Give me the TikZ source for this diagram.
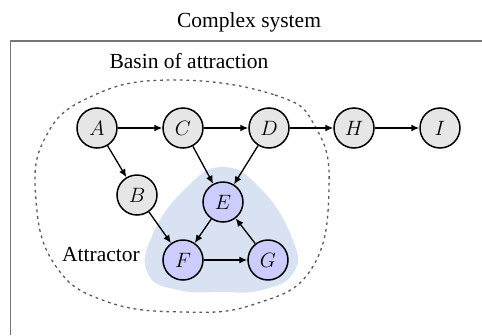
\documentclass[tikz,border=0pt]{standalone}
\usepackage{fontspec}
\setmainfont{Liberation Serif}
\usetikzlibrary{arrows.meta}
\definecolor{nodegray}{HTML}{E6E6E6}
\definecolor{nodeblue}{HTML}{CCCCFF}
\definecolor{blobblue}{HTML}{D9E2F2}
\definecolor{framegray}{HTML}{777777}
\definecolor{basingray}{HTML}{5A5A5A}
\tikzset{
  state/.style={circle, draw=black, line width=1.5pt, minimum size=40pt, inner sep=0pt,
    fill=nodegray, font=\fontsize{20.5}{22}\selectfont},
  attr/.style={state, fill=nodeblue},
  edge/.style={draw=black, line width=1.3pt, -{Latex[length=8pt,width=7pt]}},
  label/.style={font=\fontsize{21.5}{24}\selectfont, anchor=base},
  basin/.style={draw=basingray, line width=1.3pt, dash pattern=on 2.8pt off 3.8pt},
}
\begin{document}
\begin{tikzpicture}[x=1pt, y=-1pt]
\useasboundingbox (0,0) rectangle (482,335);
% outer frame of the complex system
\draw[framegray, line width=1.2pt] (10.5,335) -- (10.5,41) -- (482,41);
\node[label] (title) at (249,27) {Complex system};
\node[label] (basinlbl) at (189,68) {Basin of attraction};
% basin of attraction
\draw[basin] plot[smooth cycle, tension=0.75] coordinates {
  (170,80) (275,95) (316,128) (329,188) (312,268) (255,304) (183,312)
  (105,301) (55,265) (36,200) (45,138) (90,97)};
% attractor region
\fill[blobblue] plot[smooth cycle, tension=0.8] coordinates {
  (223,167) (262,190) (292,238) (294,272) (262,290) (222,292)
  (178,290) (148,274) (152,236) (184,190)};
\node[label] (attrlbl) at (101,261) {Attractor};
% states
\node[state] (A) at (97,128) {$A$};
\node[state] (C) at (183,128) {$C$};
\node[state] (D) at (269,128) {$D$};
\node[state] (H) at (354,128) {$H$};
\node[state] (I) at (440,128) {$I$};
\node[state] (B) at (137,195) {$B$};
\node[attr] (E) at (223,202) {$E$};
\node[attr] (F) at (183,260) {$F$};
\node[attr] (G) at (268,260) {$G$};
% transitions
\draw[edge] (A) -- (C);
\draw[edge] (C) -- (D);
\draw[edge] (D) -- (H);
\draw[edge] (H) -- (I);
\draw[edge] (A) -- (B);
\draw[edge] (B) -- (F);
\draw[edge] (C) -- (E);
\draw[edge] (D) -- (E);
\draw[edge] (E) -- (F);
\draw[edge] (F) -- (G);
\draw[edge] (G) -- (E);
\end{tikzpicture}
\end{document}
